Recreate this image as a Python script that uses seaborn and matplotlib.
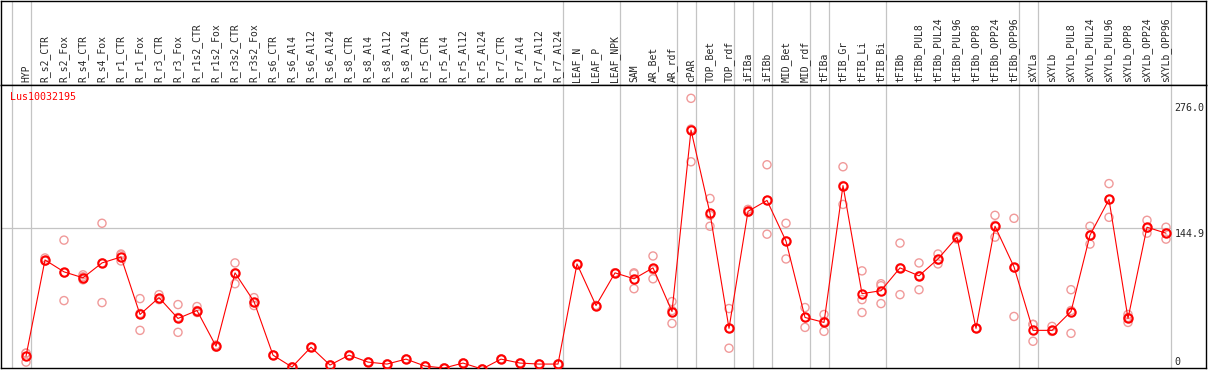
import numpy as np
import pandas as pd
import seaborn as sns
import matplotlib
matplotlib.use("Agg")
import matplotlib.pyplot as plt

gene = "Lus10032195"

samples = ["HYP", "R_s2_CTR", "R_s2_Fox", "R_s4_CTR", "R_s4_Fox", "R_r1_CTR", "R_r1_Fox",
           "R_r3_CTR", "R_r3_Fox", "R_r1s2_CTR", "R_r1s2_Fox", "R_r3s2_CTR", "R_r3s2_Fox",
           "R_s6_CTR", "R_s6_Al4", "R_s6_Al12", "R_s6_Al24", "R_s8_CTR", "R_s8_Al4",
           "R_s8_Al12", "R_s8_Al24", "R_r5_CTR", "R_r5_Al4", "R_r5_Al12", "R_r5_Al24",
           "R_r7_CTR", "R_r7_Al4", "R_r7_Al12", "R_r7_Al24", "LEAF_N", "LEAF_P", "LEAF_NPK",
           "SAM", "AR_Bet", "AR_rdf", "cPAR", "TOP_Bet", "TOP_rdf", "iFIBa", "iFIBb",
           "MID_Bet", "MID_rdf", "tFIBa", "tFIB_Gr", "tFIB_Li", "tFIB_Bi", "tFIBb",
           "tFIBb_PUL8", "tFIBb_PUL24", "tFIBb_PUL96", "tFIBb_OPP8", "tFIBb_OPP24",
           "tFIBb_OPP96", "sXYLa", "sXYLb", "sXYLb_PUL8", "sXYLb_PUL24", "sXYLb_PUL96",
           "sXYLb_OPP8", "sXYLb_OPP24", "sXYLb_OPP96"]

means = [16, 113, 101, 95, 110, 116, 58, 75, 54, 62, 26, 100, 71,
         17, 5, 25, 7, 17, 10, 8, 13, 6, 4, 9, 3, 13, 9, 8, 8,
         109, 67, 100, 94, 105, 61, 244, 160, 44, 162, 173, 132, 55, 50,
         188, 79, 82, 105, 97, 114, 136, 44, 147, 106,
         42, 42, 61, 138, 174, 54, 146, 140]

rep1 = [19, 115, 133, 98, 150, 119, 74, 78, 68, 66, 27, 110, 75,
        17, 5, 25, 7, 17, 10, 8, 13, 6, 4, 9, 3, 13, 9, 8, 8,
        109, 67, 100, 100, 117, 71, 276, 175, 64, 164, 209, 150, 65, 58,
        207, 102, 89, 130, 110, 119, 137, 44, 158, 155,
        48, 46, 83, 147, 190, 58, 153, 146]
rep2 = [10, 112, 72, 93, 70, 112, 42, 74, 40, 60, 25, 89, 67,
        17, 5, 25, 7, 17, 10, 8, 13, 6, 4, 9, 3, 13, 9, 8, 8,
        109, 67, 100, 84, 94, 49, 212, 147, 24, 161, 139, 114, 45, 41,
        169, 73, 69, 78, 83, 109, 134, 44, 136, 56,
        31, 41, 39, 129, 156, 50, 140, 134]
rep3 = [19, 112, 100, 96, 110, 118, 59, 73, 55, 62, 27, 100, 70,
        17, 5, 25, 7, 17, 10, 8, 13, 6, 4, 9, 3, 13, 9, 8, 8,
        109, 67, 100, 99, 103, 62, 245, 158, 44, 162, 173, 132, 55, 51,
        188, 60, 87, 105, 97, 113, 136, 44, 148, 105,
        48, 41, 62, 138, 174, 55, 145, 140]

# last sample index of each group (-1 = line before the first sample)
group_ends = [-1, 0, 28, 31, 34, 35, 37, 38, 39, 41, 42, 45, 52, 53, 60]
ref_value = 144.9
axis_max = 276.0

pos = np.arange(len(samples))
mean_df = pd.DataFrame({"pos": pos, "expr": means})
rep_df = pd.DataFrame({"pos": np.tile(pos, 3), "expr": rep1 + rep2 + rep3})

sns.set_style("white")
plt.rcParams["font.family"] = ["DejaVu Sans Mono"]

W, H = 1209, 370
fig = plt.figure(figsize=(W / 100, H / 100), dpi=100)
left, right = 1, 1206
head_top, head_bot, plot_bot = 1, 85, 368
hx = fig.add_axes([left / W, 1 - head_bot / H, (right - left) / W, (head_bot - head_top) / H])
ax = fig.add_axes([left / W, 1 - plot_bot / H, (right - left) / W, (plot_bot - head_bot) / H],
                  sharex=hx)

# pixel -> data: column i at 26 + 19 i, value v at 372 - 0.9916 v
ax.set_xlim((left - 26) / 19, (right - 26) / 19)
ax.set_ylim((372 - plot_bot) / 0.9916, (372 - head_bot) / 0.9916)
hx.set_ylim(0, 1)

gray = "#c4c4c4"
for g in group_ends:
    for a in (ax, hx):
        a.axvline(g + 0.25, color=gray, lw=0.9, zorder=0)
ax.hlines(ref_value, (left - 26) / 19, group_ends[-1] + 0.25, color=gray, lw=0.9, zorder=0)

sns.scatterplot(data=rep_df, x="pos", y="expr", ax=ax, marker="o", s=34,
                facecolor="none", edgecolor="#f09a9a", linewidth=1.0, zorder=2)
sns.lineplot(data=mean_df, x="pos", y="expr", ax=ax, color="red", lw=0.8,
             marker="o", markersize=6, markerfacecolor="none",
             markeredgecolor="red", markeredgewidth=1.5, zorder=3)

for i, name in enumerate(samples):
    hx.text(i, 0.03, name, rotation=90, ha="center", va="bottom", fontsize=7)

ax.text(0.0075, 0.958, gene, transform=ax.transAxes, color="red", fontsize=7.2,
        ha="left", va="center")

lx = group_ends[-1] + 0.45
ax.text(lx, axis_max - 5, f"{axis_max:.1f}", fontsize=7.2, ha="left", va="top")
ax.text(lx, ref_value - 0.5, f"{ref_value:.1f}", fontsize=7.2, ha="left", va="top")
ax.text(lx, 0.01, "0", transform=ax.get_xaxis_transform(), fontsize=7.2,
        ha="left", va="baseline")

for a in (ax, hx):
    a.set_xticks([])
    a.set_yticks([])
    a.set_xlabel("")
    a.set_ylabel("")
    for s in a.spines.values():
        s.set_color("black")
        s.set_linewidth(1.0)
    a.set_facecolor("white")

fig.savefig("out.png", dpi=100)
